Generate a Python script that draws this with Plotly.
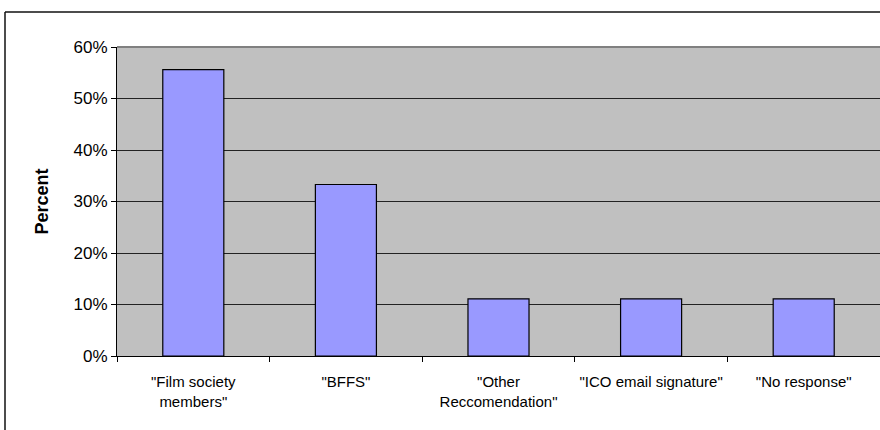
import plotly.graph_objects as go

categories = ['"Film society<br>members"', '"BFFS"', '"Other<br>Reccomendation"',
              '"ICO email signature"', '"No response"']
values = [0.556, 0.333, 0.111, 0.111, 0.111]
y_ticks = [0, 0.1, 0.2, 0.3, 0.4, 0.5, 0.6]
y_ticktext = ["0%", "10%", "20%", "30%", "40%", "50%", "60%"]

L, T, W, H = 117, 47, 763, 309
FIG_W, FIG_H = 880, 430

def px_x(x):
    return (x - L) / W

def px_y(y):
    return 1 - (y - T) / H

fig = go.Figure(go.Bar(
    x=categories, y=values,
    marker=dict(color="#9999FF", line=dict(color="black", width=1.2)),
    width=0.4,
))

fig.update_layout(
    width=FIG_W, height=FIG_H,
    margin=dict(l=L, r=FIG_W - L - W, t=T, b=FIG_H - T - H, pad=0),
    paper_bgcolor="white", plot_bgcolor="#C0C0C0",
    font=dict(family="Liberation Sans, Arial, sans-serif", color="black"),
    showlegend=False,
    bargap=0.6,
)
fig.update_xaxes(
    range=[-0.5, 4.5], showline=True, linecolor="black", linewidth=1,
    ticks="outside", tickson="boundaries", ticklen=5, tickcolor="black",
    tickfont=dict(size=15), showgrid=False, zeroline=False,
    ticklabelstandoff=12,
)
fig.update_yaxes(
    range=[0, 0.6], tickvals=y_ticks, ticktext=y_ticktext,
    showline=True, linecolor="black", linewidth=1,
    ticks="outside", ticklen=5, tickcolor="black",
    tickfont=dict(size=17), showgrid=True, gridcolor="#222222", gridwidth=1,
    zeroline=False,
)
fig.add_annotation(
    text="<b>Percent</b>", textangle=-90, xref="paper", yref="paper",
    x=px_x(41), y=0.5, xanchor="center", yanchor="middle", showarrow=False,
    font=dict(size=18, family="Liberation Sans, Arial, sans-serif", color="black"),
)
# plot-area top edge
fig.add_shape(type="line", xref="paper", yref="paper", x0=0, x1=1, y0=1, y1=1,
              line=dict(color="#808080", width=2))
# outer chart border (left and top)
fig.add_shape(type="line", xref="paper", yref="paper",
              x0=px_x(5), x1=px_x(5), y0=px_y(12), y1=px_y(440),
              line=dict(color="#111111", width=1.5))
fig.add_shape(type="line", xref="paper", yref="paper",
              x0=px_x(5), x1=px_x(890), y0=px_y(12), y1=px_y(12),
              line=dict(color="#111111", width=1.5))

fig.write_html(
    "out.html",
    config={"displayModeBar": False},
    post_script="document.body.style.margin='0';document.body.style.overflow='hidden';",
)
